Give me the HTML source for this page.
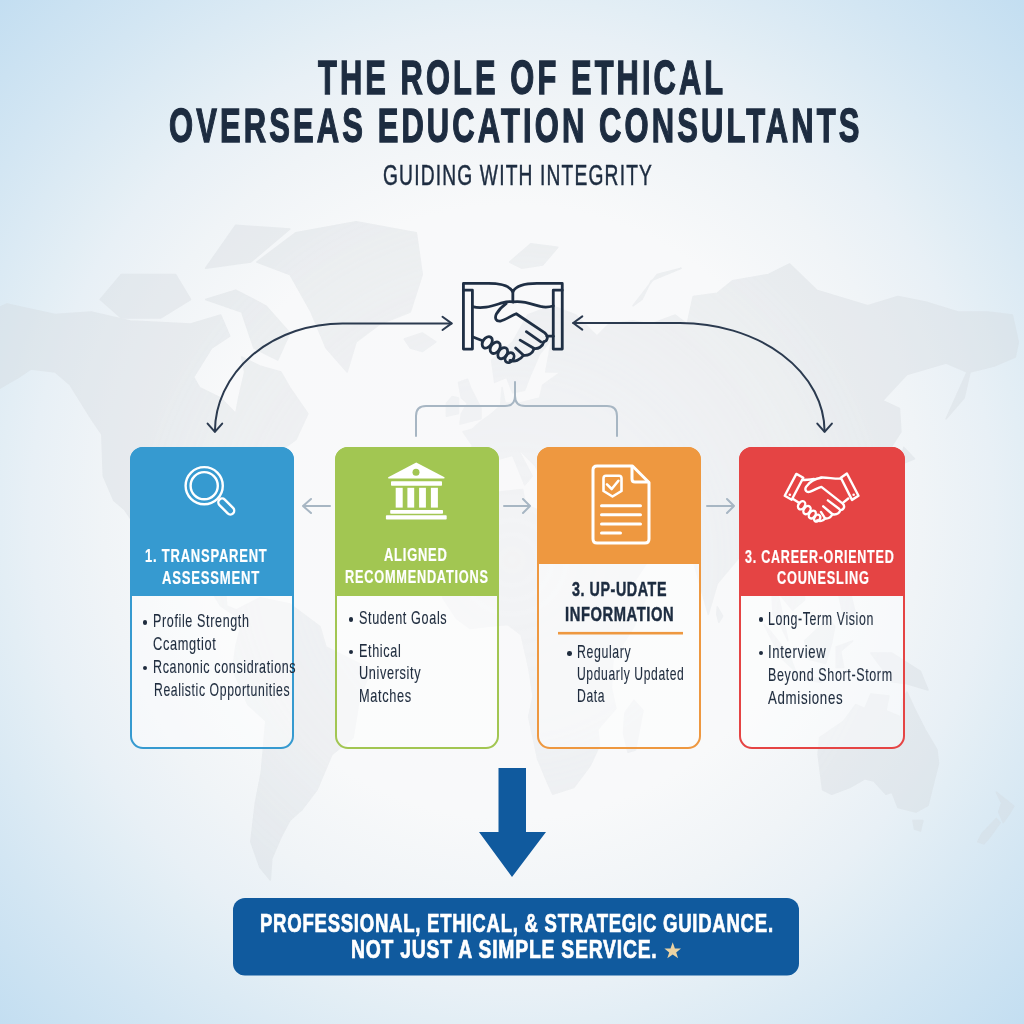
<!DOCTYPE html>
<html><head><meta charset="utf-8"><style>
html,body{margin:0;padding:0;width:1024px;height:1024px;overflow:hidden}
body{position:relative;font-family:"Liberation Sans",sans-serif;
background:radial-gradient(circle 724px at 50% 50%, rgb(249,249,250) 0%, rgb(248,249,250) 42.4%, rgb(240,244,247) 56.6%, rgb(232,240,246) 66.5%, rgb(227,238,245) 70.7%, rgb(211,230,243) 84.8%, rgb(195,222,241) 100%);}
.t{position:absolute;white-space:nowrap;line-height:1;transform-origin:0 0}
.dot{position:absolute;width:4.6px;height:4.6px;border-radius:50%;background:#1f2c3e}
.card{position:absolute;box-sizing:border-box;border:2.1px solid;border-radius:13px;background:rgba(255,255,255,0.45)}
.hd{position:absolute;border-radius:13px 13px 0 0}
.ov{position:absolute;left:0;top:0}
</style></head><body>
<svg class="ov" width="1024" height="1024" viewBox="0 0 1024 1024"><defs><radialGradient id="mg" gradientUnits="userSpaceOnUse" cx="512" cy="560" r="520"><stop offset="0" stop-color="#fff" stop-opacity="0.45"/><stop offset="0.35" stop-color="#fff" stop-opacity="0.6"/><stop offset="0.75" stop-color="#fff" stop-opacity="1"/></radialGradient><mask id="mm" maskUnits="userSpaceOnUse" x="0" y="0" width="1024" height="1024"><rect width="1024" height="1024" fill="url(#mg)"/></mask></defs><g mask="url(#mm)"><g fill="#d3d8dd" opacity="0.36" stroke="#d3d8dd" stroke-width="1.5" stroke-linejoin="round"><path d="M-29.2 336.0 L-11.1 312.0 L6.9 303.9 L55.1 314.4 L91.2 312.0 L130.4 321.0 L190.6 324.0 L220.7 315.0 L229.7 336.0 L211.6 348.0 L193.6 377.2 L199.6 387.6 L220.7 398.0 L235.7 413.6 L238.7 398.0 L244.7 372.0 L241.7 357.0 L259.8 366.0 L280.9 372.0 L289.9 387.6 L307.9 413.6 L295.9 439.6 L277.8 452.6 L265.8 465.6 L253.8 473.4 L247.7 498.2 L232.7 516.0 L235.7 540.5 L229.7 533.9 L223.7 520.5 L208.6 520.5 L193.6 522.7 L184.5 533.9 L183.0 556.1 L190.6 571.1 L202.6 571.1 L214.6 558.3 L211.6 581.4 L225.2 585.5 L226.7 606.0 L237.2 610.1 L243.2 614.2 L235.7 616.2 L220.7 606.0 L213.1 593.7 L199.6 587.5 L184.5 581.4 L160.5 565.0 L157.4 551.6 L139.4 522.7 L148.4 551.6 L131.9 520.5 L124.3 509.4 L113.8 500.5 L103.3 476.0 L101.8 434.4 L91.2 418.8 L70.2 385.0 L55.1 372.0 L31.0 369.0 L19.0 377.2 L0.9 387.6 L-11.1 398.0 L0.9 379.8 L-11.1 372.0 L-20.1 357.0 L-17.1 345.0 Z"/><path d="M256.8 262.0 L295.9 232.7 L356.1 221.7 L416.3 232.7 L422.3 274.5 L410.3 312.0 L380.2 324.0 L356.1 342.0 L347.1 372.0 L326.0 348.0 L311.0 312.0 L289.9 274.5 Z"/><path d="M205.6 299.5 L235.7 290.1 L265.8 305.8 L289.9 333.0 L277.8 360.0 L253.8 348.0 L241.7 312.0 Z"/><path d="M100.2 299.5 L121.3 274.5 L175.5 274.5 L190.6 299.5 L160.5 318.0 L121.3 318.0 Z"/><path d="M205.6 268.2 L235.7 225.3 L289.9 229.0 L250.8 262.0 Z"/><path d="M404.3 339.0 L422.3 333.0 L435.9 342.0 L422.3 351.6 L410.3 348.0 Z"/><path d="M235.7 610.1 L259.8 597.8 L289.9 604.0 L320.0 626.5 L326.0 647.0 L371.1 669.5 L359.1 700.3 L353.1 737.6 L332.0 754.4 L317.0 789.9 L301.9 809.8 L289.9 820.5 L280.9 837.5 L271.8 858.8 L270.3 880.0 L259.8 867.2 L250.8 841.8 L255.3 803.1 L261.3 772.1 L265.8 721.0 L247.7 704.4 L232.7 669.5 L235.7 647.0 L243.2 616.2 Z"/><path d="M449.4 460.4 L449.4 489.4 L459.9 493.8 L476.5 482.7 L485.5 463.0 L494.6 460.4 L512.6 455.2 L524.7 484.9 L532.2 476.0 L517.1 447.4 L535.2 465.6 L545.7 487.1 L554.8 473.4 L563.8 470.8 L584.9 491.6 L581.9 511.6 L572.8 516.0 L578.8 529.4 L605.9 595.8 L633.0 583.5 L651.1 556.1 L645.1 536.1 L630.0 545.0 L622.5 522.7 L648.1 540.5 L663.1 542.8 L678.2 545.0 L693.2 560.5 L708.3 614.2 L717.3 583.5 L738.4 558.3 L753.4 556.1 L759.4 581.4 L771.5 581.4 L773.0 614.2 L779.0 622.4 L788.0 640.9 L777.5 591.6 L792.5 610.1 L804.6 599.9 L801.6 558.3 L828.7 551.6 L843.7 520.5 L840.7 491.6 L830.2 482.7 L843.7 473.4 L852.8 478.2 L866.3 498.2 L866.3 463.0 L884.4 457.8 L900.9 431.8 L899.4 408.4 L882.8 400.6 L906.9 374.6 L946.1 363.0 L967.1 372.0 L946.1 418.8 L964.1 398.0 L970.1 372.0 L994.2 366.0 L1015.3 357.0 L1018.3 342.0 L1012.3 315.0 L988.2 312.0 L958.1 312.0 L928.0 302.6 L897.9 296.4 L867.8 305.8 L816.6 290.1 L789.5 263.9 L768.5 274.5 L732.4 280.8 L717.3 293.2 L693.2 296.4 L687.2 324.0 L675.2 315.0 L651.1 324.0 L633.0 321.0 L608.9 324.0 L596.9 336.0 L575.8 315.0 L551.8 305.8 L527.7 315.0 L512.6 342.0 L491.6 360.0 L494.6 382.4 L506.6 377.2 L512.6 392.8 L524.7 390.2 L530.7 374.6 L539.7 354.0 L551.8 339.0 L545.7 372.0 L560.8 372.0 L542.7 385.0 L539.7 398.0 L518.6 403.2 L505.1 403.2 L502.1 387.6 L500.6 405.8 L488.5 416.2 L481.0 421.4 L472.0 429.2 L463.0 431.8 L472.0 444.8 L472.0 457.8 Z"/><path d="M459.9 424.0 L481.0 418.8 L481.0 408.4 L470.5 387.6 L467.5 379.3 L458.4 382.4 L461.4 398.0 L467.5 403.2 L461.4 413.6 Z"/><path d="M446.4 416.2 L458.4 413.6 L458.4 398.0 L452.4 396.4 L446.4 403.2 Z"/><path d="M441.3 560.5 L444.3 529.4 L462.4 520.5 L474.4 494.7 L522.6 489.4 L525.6 504.9 L552.7 516.0 L582.8 513.8 L590.3 520.5 L597.9 529.4 L603.9 560.5 L609.9 583.5 L621.9 597.8 L646.0 597.8 L634.0 626.5 L612.9 659.3 L611.4 687.9 L615.9 708.6 L597.9 729.3 L599.4 745.9 L590.3 765.5 L573.8 787.6 L552.7 794.3 L546.7 781.0 L537.6 758.9 L528.6 716.9 L533.1 696.1 L528.6 667.5 L521.1 634.7 L507.6 624.5 L486.5 626.5 L469.9 628.5 L456.4 618.3 L442.8 597.8 L441.3 585.5 L444.3 569.1 Z"/><path d="M624.9 712.7 L634.0 700.3 L643.0 710.6 L635.5 750.0 L628.0 752.2 L623.4 733.4 Z"/><path d="M819.6 737.6 L818.1 754.4 L822.6 789.9 L831.7 794.3 L849.7 787.6 L864.8 778.8 L873.8 781.0 L885.9 794.3 L891.9 792.1 L897.9 807.6 L916.0 812.0 L928.0 805.4 L938.5 763.3 L937.0 750.0 L925.0 729.3 L914.5 708.6 L906.9 692.0 L902.4 700.3 L900.9 716.9 L885.9 710.6 L888.9 696.1 L870.8 694.1 L864.8 708.6 L855.8 704.4 L843.7 721.0 Z"/><path d="M913.0 820.5 L922.9 820.5 L920.5 831.1 L914.5 829.0 Z"/><path d="M996.3 792.1 L1013.8 806.2 L1009.3 814.1 L1003.2 822.6 L998.7 812.0 L1001.7 803.1 Z"/><path d="M996.3 818.4 L1000.2 822.6 L991.2 835.4 L983.7 843.9 L977.7 841.8 L982.2 833.2 Z"/><path d="M867.8 513.8 L872.3 502.7 L882.8 500.5 L897.9 496.0 L902.4 482.7 L902.4 468.2 L897.9 470.8 L896.4 484.9 L888.9 489.4 L876.8 496.0 L867.8 504.9 Z"/><path d="M897.9 465.6 L914.5 458.8 L903.9 447.4 Z"/><path d="M837.7 573.2 L845.2 573.2 L855.8 614.2 L843.7 618.3 L837.7 589.6 Z"/><path d="M764.0 624.5 L771.5 632.6 L789.5 655.2 L795.6 671.5 L780.5 657.2 Z"/><path d="M804.6 640.9 L828.7 618.3 L834.7 626.5 L831.7 642.9 L825.7 663.4 L809.1 659.3 Z"/><path d="M794.1 674.8 L821.1 678.9 L821.1 682.6 L795.6 677.7 Z"/><path d="M870.8 653.1 L891.9 653.1 L920.5 671.5 L928.0 690.0 L906.9 683.8 L891.9 681.8 Z"/><path d="M836.2 647.0 L852.8 640.9 L840.7 651.1 L843.7 667.5 L836.2 667.5 Z"/><path d="M717.3 606.8 L722.7 616.2 L718.8 622.4 L716.7 614.2 Z"/><path d="M220.7 556.1 L235.7 550.8 L253.8 565.0 L243.2 565.8 Z"/><path d="M252.3 571.1 L270.3 571.1 L267.3 565.8 L256.8 565.0 Z"/><path d="M633.0 305.8 L642.0 299.5 L651.1 280.8 L681.2 268.2 L657.1 274.5 Z"/><path d="M509.6 262.0 L530.7 243.7 L557.8 247.3 L542.7 265.1 L521.6 268.2 Z"/></g></g></svg>
<div class="card" style="left:129.5px;top:447px;width:164.5px;height:301.8px;border-color:#369ad0"></div><div class="hd" style="left:129.5px;top:447px;width:164.5px;height:149.0px;background:#369ad0"></div><div class="card" style="left:335px;top:447px;width:163.8px;height:301.8px;border-color:#a2c652"></div><div class="hd" style="left:335px;top:447px;width:163.8px;height:148.6px;background:#a2c652"></div><div class="card" style="left:536.6px;top:447px;width:164.3px;height:301.8px;border-color:#ee9840"></div><div class="hd" style="left:536.6px;top:447px;width:164.3px;height:116.8px;background:#ee9840"></div><div class="card" style="left:739.2px;top:447px;width:165.7px;height:301.8px;border-color:#e54444"></div><div class="hd" style="left:739.2px;top:447px;width:165.7px;height:149.0px;background:#e54444"></div>

<svg class="ov" width="1024" height="1024" viewBox="0 0 1024 1024">
 <g fill="none" stroke="#2b3a4f" stroke-width="2" stroke-linecap="round" stroke-linejoin="round">
  <path d="M451.6 323.4 L342.4 323.4 A127.5 108.4 0 0 0 214.9 431.5"/>
  <path d="M442.5 316.8 L451.6 323.4 L442.5 330"/>
  <path d="M207.6 423.6 L214.9 431.8 L222.2 423.6"/>
  <path d="M573.2 323 L680 323 A144.6 108.8 0 0 1 824.6 431.5"/>
  <path d="M582.3 316.4 L573.2 323 L582.3 329.6"/>
  <path d="M817.3 423.6 L824.6 431.8 L831.9 423.6"/>
 </g>
 <g fill="none" stroke="#a7b6c3" stroke-width="2" stroke-linecap="round" stroke-linejoin="round">
  <path d="M515 382 L515 396 Q515 406 505 406 L426 406 Q416 406 416 416 L416 436"/>
  <path d="M515 396 Q515 406 525 406 L607 406 Q617 406 617 416 L617 436"/>
  <path d="M303 506 L330 506 M311 499 L303 506 L311 513"/>
  <path d="M504 506 L530 506 M523 499 L530 506 L523 513"/>
  <path d="M707 506 L734 506 M727 499 L734 506 L727 513"/>
 </g>
 <path d="M498.5 768 L526 768 L526 832 L546 832 L512 877 L479 832 L498.5 832 Z" fill="#105a9e"/>
 <rect x="233" y="898" width="566" height="77.6" rx="12" fill="#105a9e"/>
 <path d="M672.7 942.3 L674.9 948.5 L681 948.5 L676.2 952.4 L678.1 958.3 L672.7 954.6 L667.3 958.3 L669.2 952.4 L664.4 948.5 L670.5 948.5 Z" fill="#ebd3a3"/>
 <g transform="translate(455 275) scale(0.11231)" fill="none" stroke="#1f2f44" stroke-width="25" stroke-linecap="round" stroke-linejoin="round">
 <path d="M75 135 L155 135 L155 660 L75 660 Z"/>
 <path d="M875 135 L955 135 L955 660 L875 660 Z"/>
 <path d="M75 135 L75 75 L300 75 C420 75 490 100 515 150 C540 100 610 75 730 75 L955 75 L955 135"/>
 <path d="M515 150 L515 238"/>
 <path d="M155 282 C250 305 330 275 420 248 C460 236 495 234 520 240"/>
 <path d="M520 240 C600 226 680 258 760 280 C800 290 840 286 875 276"/>
 <path d="M455 255 C420 280 390 310 370 345 C350 385 365 415 405 410 C450 402 500 360 545 345 L800 515 C835 545 825 590 790 595"/>
 <path d="M790 595 C780 640 740 660 705 655 C690 700 650 720 610 715 C580 760 530 775 490 760"/>
 <path d="M635 505 L765 595"/>
 <path d="M580 580 L705 655"/>
 <path d="M540 650 L610 715"/>
 <path d="M155 550 L245 585"/>
 <path d="M820 545 L875 545"/>
 <ellipse cx="287" cy="600" rx="56" ry="39" transform="rotate(-55 287 600)"/>
 <ellipse cx="358" cy="648" rx="56" ry="39" transform="rotate(-55 358 648)"/>
 <ellipse cx="425" cy="696" rx="54" ry="38" transform="rotate(-55 425 696)"/>
 <ellipse cx="486" cy="736" rx="48" ry="35" transform="rotate(-55 486 736)"/>
</g><g transform="translate(775 460) scale(0.09276)" fill="none" stroke="#ffffff" stroke-width="26" stroke-linecap="round" stroke-linejoin="round">
 <path d="M105 385 L230 150 L305 192 L180 428 Z"/>
 <path d="M710 192 L775 145 L900 385 L830 430 Z"/>
 <circle cx="160" cy="374" r="14" fill="#fff" stroke="none"/>
 <circle cx="848" cy="374" r="14" fill="#fff" stroke="none"/>
 <path d="M300 215 C340 215 380 210 420 205"/>
 <path d="M490 190 C560 185 640 205 712 200"/>
 <path d="M500 192 C430 200 370 240 335 290 C315 325 340 355 380 340 C420 325 460 300 500 290 L730 470 C760 500 740 540 705 540"/>
 <path d="M705 540 C690 580 650 590 620 585 C600 620 570 635 540 630 C520 660 480 665 455 650"/>
 <path d="M570 435 L690 525"/>
 <path d="M520 500 L620 585"/>
 <path d="M495 560 L540 630"/>
 <path d="M195 420 L250 455"/>
 <path d="M790 415 L735 460"/>
 <ellipse cx="287" cy="488" rx="48" ry="34" transform="rotate(-55 287 488)"/>
 <ellipse cx="345" cy="540" rx="48" ry="34" transform="rotate(-55 345 540)"/>
 <ellipse cx="402" cy="588" rx="46" ry="33" transform="rotate(-55 402 588)"/>
 <ellipse cx="455" cy="627" rx="40" ry="30" transform="rotate(-55 455 627)"/>
</g><g fill="none" stroke="#ffffff" stroke-width="2.4">
 <circle cx="204.2" cy="485.7" r="18.6"/>
 <circle cx="204.2" cy="485.7" r="13.6"/>
 <rect x="216.6" y="502.7" width="19.3" height="7.6" rx="3.8" transform="rotate(45 226.25 506.5)"/>
</g><g fill="#ffffff">
 <path d="M416.25 462.5 L444.5 477.2 Q445 478.6 443.6 478.6 L389 478.6 Q387.6 478.6 388.2 477.2 Z"/>
 <rect x="391" y="481.2" width="51" height="4.5" rx="0.8"/>
 <rect x="395.7" y="487.8" width="7" height="19.8"/>
 <rect x="407.4" y="487.8" width="6.8" height="19.8"/>
 <rect x="419.1" y="487.8" width="6.8" height="19.8"/>
 <rect x="430.9" y="487.8" width="7" height="19.8"/>
 <rect x="390.2" y="510" width="52.8" height="3.7" rx="0.8"/>
 <rect x="385.9" y="515.2" width="60.8" height="4.3" rx="0.8"/>
</g>
<circle cx="416" cy="472.3" r="3.5" fill="#a2c652"/><g fill="none" stroke="#ffffff" stroke-width="3" stroke-linecap="round" stroke-linejoin="round">
 <path d="M597 466 L632.5 466 L649 482.5 L649 539 Q649 543 645 543 L597 543 Q593 543 593 539 L593 470 Q593 466 597 466 Z"/>
 <path d="M632 467 L632 479 Q632 482 635 482 L648 482"/>
 <path d="M606 475.8 L619 475.8 Q621.5 475.8 621.5 478.3 L621.5 491 L612.5 496.5 L603.5 491 L603.5 478.3 Q603.5 475.8 606 475.8 Z" stroke-width="2.6"/>
 <path d="M607 484.3 L611.7 489 L618.4 480.8" stroke-width="2.6"/>
 <path d="M601.5 505.8 L640.5 505.8 M601.5 514.8 L640.5 514.8 M601.5 524.1 L640.5 524.1 M601.5 533.1 L620.5 533.1"/>
</g>
 <rect x="558" y="631.9" width="125" height="2.6" fill="#ee9840"/>
</svg>
<div class="t" style="left:317.84px;top:52.56px;font-size:48.84px;font-weight:bold;color:#1d2c40;transform:scaleX(0.6318);letter-spacing:0.1em;-webkit-text-stroke:1.4px #1d2c40;">THE ROLE OF ETHICAL</div><div class="t" style="left:169.45px;top:101.90px;font-size:47.97px;font-weight:bold;color:#1d2c40;transform:scaleX(0.6458);letter-spacing:0.1em;-webkit-text-stroke:1.4px #1d2c40;">OVERSEAS EDUCATION CONSULTANTS</div><div class="t" style="left:382.77px;top:161.02px;font-size:28.92px;font-weight:normal;color:#1d2c40;transform:scaleX(0.6652);letter-spacing:0.06em;-webkit-text-stroke:0.5px #1d2c40;">GUIDING WITH INTEGRITY</div>
<div class="t" style="left:144.77px;top:546.65px;font-size:18.60px;font-weight:bold;color:#ffffff;transform:scaleX(0.6987);letter-spacing:0.06em;-webkit-text-stroke:0.2px #ffffff;">1. TRANSPARENT</div><div class="t" style="left:161.87px;top:569.25px;font-size:18.60px;font-weight:bold;color:#ffffff;transform:scaleX(0.7043);letter-spacing:0.06em;-webkit-text-stroke:0.2px #ffffff;">ASSESSMENT</div><div class="t" style="left:384.27px;top:544.96px;font-size:19.19px;font-weight:bold;color:#ffffff;transform:scaleX(0.6742);letter-spacing:0.06em;-webkit-text-stroke:0.2px #ffffff;">ALIGNED</div><div class="t" style="left:345.27px;top:567.38px;font-size:19.04px;font-weight:bold;color:#ffffff;transform:scaleX(0.6698);letter-spacing:0.06em;-webkit-text-stroke:0.2px #ffffff;">RECOMMENDATIONS</div><div class="t" style="left:571.77px;top:579.38px;font-size:20.93px;font-weight:bold;color:#1d2c40;transform:scaleX(0.6833);letter-spacing:0.04em;-webkit-text-stroke:0.5px #1d2c40;">3. UP-UDATE</div><div class="t" style="left:565.48px;top:603.65px;font-size:20.49px;font-weight:bold;color:#1d2c40;transform:scaleX(0.7183);letter-spacing:0.04em;-webkit-text-stroke:0.5px #1d2c40;">INFORMATION</div><div class="t" style="left:744.77px;top:546.58px;font-size:19.04px;font-weight:bold;color:#ffffff;transform:scaleX(0.6591);letter-spacing:0.06em;-webkit-text-stroke:0.2px #ffffff;">3. CAREER-ORIENTED</div><div class="t" style="left:776.87px;top:569.25px;font-size:18.60px;font-weight:bold;color:#ffffff;transform:scaleX(0.6853);letter-spacing:0.06em;-webkit-text-stroke:0.2px #ffffff;">COUNESLING</div><div class="t" style="left:153.24px;top:613.11px;font-size:17.59px;font-weight:normal;color:#1f2c3e;transform:scaleX(0.7141);letter-spacing:0.05em;-webkit-text-stroke:0.12px #1f2c3e;">Profile Strength</div><div class="t" style="left:153.24px;top:635.71px;font-size:17.59px;font-weight:normal;color:#1f2c3e;transform:scaleX(0.7289);letter-spacing:0.05em;-webkit-text-stroke:0.12px #1f2c3e;">Ccamgtiot</div><div class="t" style="left:153.24px;top:658.71px;font-size:17.59px;font-weight:normal;color:#1f2c3e;transform:scaleX(0.7124);letter-spacing:0.05em;-webkit-text-stroke:0.12px #1f2c3e;">Rcanonic considrations</div><div class="t" style="left:154.04px;top:681.61px;font-size:17.59px;font-weight:normal;color:#1f2c3e;transform:scaleX(0.6944);letter-spacing:0.05em;-webkit-text-stroke:0.12px #1f2c3e;">Realistic Opportunities</div><div class="t" style="left:359.44px;top:610.11px;font-size:17.59px;font-weight:normal;color:#1f2c3e;transform:scaleX(0.7186);letter-spacing:0.05em;-webkit-text-stroke:0.12px #1f2c3e;">Student Goals</div><div class="t" style="left:359.44px;top:642.51px;font-size:17.59px;font-weight:normal;color:#1f2c3e;transform:scaleX(0.7187);letter-spacing:0.05em;-webkit-text-stroke:0.12px #1f2c3e;">Ethical</div><div class="t" style="left:359.44px;top:664.81px;font-size:17.59px;font-weight:normal;color:#1f2c3e;transform:scaleX(0.7238);letter-spacing:0.05em;-webkit-text-stroke:0.12px #1f2c3e;">University</div><div class="t" style="left:359.44px;top:688.21px;font-size:17.59px;font-weight:normal;color:#1f2c3e;transform:scaleX(0.7263);letter-spacing:0.05em;-webkit-text-stroke:0.12px #1f2c3e;">Matches</div><div class="t" style="left:577.24px;top:644.01px;font-size:17.59px;font-weight:normal;color:#1f2c3e;transform:scaleX(0.7008);letter-spacing:0.05em;-webkit-text-stroke:0.12px #1f2c3e;">Regulary</div><div class="t" style="left:577.24px;top:665.71px;font-size:17.59px;font-weight:normal;color:#1f2c3e;transform:scaleX(0.6900);letter-spacing:0.05em;-webkit-text-stroke:0.12px #1f2c3e;">Upduarly Updated</div><div class="t" style="left:577.24px;top:688.41px;font-size:17.59px;font-weight:normal;color:#1f2c3e;transform:scaleX(0.6908);letter-spacing:0.05em;-webkit-text-stroke:0.12px #1f2c3e;">Data</div><div class="t" style="left:767.84px;top:610.61px;font-size:17.59px;font-weight:normal;color:#1f2c3e;transform:scaleX(0.7039);letter-spacing:0.05em;-webkit-text-stroke:0.12px #1f2c3e;">Long-Term Vision</div><div class="t" style="left:767.84px;top:644.01px;font-size:17.59px;font-weight:normal;color:#1f2c3e;transform:scaleX(0.7449);letter-spacing:0.05em;-webkit-text-stroke:0.12px #1f2c3e;">Interview</div><div class="t" style="left:767.84px;top:667.10px;font-size:17.66px;font-weight:normal;color:#1f2c3e;transform:scaleX(0.7092);letter-spacing:0.05em;-webkit-text-stroke:0.12px #1f2c3e;">Beyond Short-Storm</div><div class="t" style="left:767.85px;top:690.31px;font-size:17.59px;font-weight:normal;color:#1f2c3e;transform:scaleX(0.7548);letter-spacing:0.05em;-webkit-text-stroke:0.12px #1f2c3e;">Admisiones</div><div class="t" style="left:260.16px;top:911.01px;font-size:25.15px;font-weight:bold;color:#ffffff;transform:scaleX(0.7381);letter-spacing:0.04em;-webkit-text-stroke:0.7px #ffffff;">PROFESSIONAL, ETHICAL, &amp; STRATEGIC GUIDANCE.</div><div class="t" style="left:351.27px;top:937.04px;font-size:25.00px;font-weight:bold;color:#ffffff;transform:scaleX(0.7741);letter-spacing:0.04em;-webkit-text-stroke:0.7px #ffffff;">NOT JUST A SIMPLE SERVICE.</div>
<div class="dot" style="left:142.6px;top:620.0px"></div><div class="dot" style="left:142.6px;top:665.8px"></div><div class="dot" style="left:348.9px;top:617.0px"></div><div class="dot" style="left:348.9px;top:649.9px"></div><div class="dot" style="left:567.3px;top:651.3px"></div><div class="dot" style="left:758.6px;top:617.0px"></div><div class="dot" style="left:758.6px;top:650.9px"></div>
</body></html>
